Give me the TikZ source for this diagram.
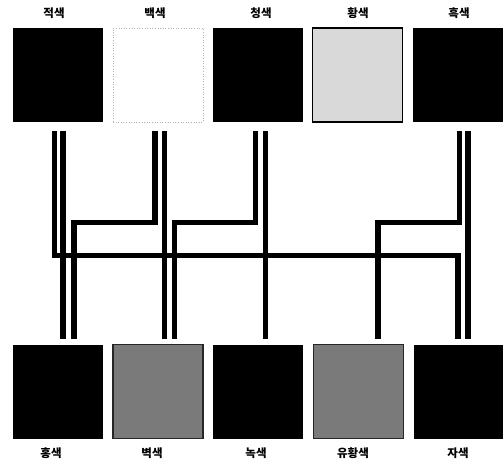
\documentclass[tikz,border=0pt]{standalone}
\usepackage{fontspec}
\newfontfamily\kr{Noto Sans CJK KR}
\begin{document}
\begin{tikzpicture}[x=1pt,y=-1pt]
\tikzset{
  sq/.style={minimum width=90pt,minimum height=94pt,inner sep=0pt,outer sep=0pt},
  blk/.style={sq,fill=black},
  lbl/.style={font=\kr\bfseries\fontsize{11.5}{13}\selectfont,inner sep=0pt},
  wire/.style={line width=5.5pt,line join=miter,line cap=butt}
}
\useasboundingbox (0,0) rectangle (503,464);
% top squares
\node[blk] (t1) at (58,75) {};
\node[sq,draw=gray!60,dotted,line width=0.6pt] (t2) at (158,75) {};
\node[blk] (t3) at (258,75) {};
\node[sq,fill=black!15,draw=black,line width=1.5pt] (t4) at (357.5,75) {};
\node[blk] (t5) at (458,75) {};
% bottom squares
\node[blk] (b1) at (58,391.5) {};
\node[sq,fill=black!52,draw=black!85,line width=1.2pt] (b2) at (158,391.5) {};
\node[blk] (b3) at (258,391.5) {};
\node[sq,fill=black!52,draw=black!85,line width=1.2pt] (b4) at (358.5,391.5) {};
\node[blk] (b5) at (458.5,391.5) {};
% labels
\node[lbl] (lt1) at (54,13) {적색};
\node[lbl] (lt2) at (155,13) {백색};
\node[lbl] (lt3) at (261,13) {청색};
\node[lbl] (lt4) at (358,13) {황색};
\node[lbl] (lt5) at (459,13) {흑색};
\node[lbl] (lb1) at (51,453) {홍색};
\node[lbl] (lb2) at (152,453) {벽색};
\node[lbl] (lb3) at (256,453) {녹색};
\node[lbl] (lb4) at (353,453) {유황색};
\node[lbl] (lb5) at (458,453) {자색};
% wire end points
\coordinate (a0) at (54.5,131);  \coordinate (a1) at (458,339);
\coordinate (c0) at (63,131);    \coordinate (c1) at (63,339);
\coordinate (d0) at (155,131);   \coordinate (d1) at (74,339);
\coordinate (e0) at (164.5,131); \coordinate (e1) at (164.5,339);
\coordinate (f0) at (255.5,131); \coordinate (f1) at (174.5,339);
\coordinate (g0) at (265.5,131); \coordinate (g1) at (265.5,339);
\coordinate (h0) at (459.5,131); \coordinate (h1) at (378,339);
\coordinate (k0) at (468,131);   \coordinate (k1) at (468,339);
% wires
\draw[wire] (a0) |- (255.5,255.5) -| (a1);
\draw[wire] (c0) -- (c1);
\draw[wire] (d0) |- (74,222.5) -- (d1);
\draw[wire] (e0) -- (e1);
\draw[wire] (f0) |- (174.5,222.5) -- (f1);
\draw[wire] (g0) -- (g1);
\draw[wire] (h0) |- (378,222.5) -- (h1);
\draw[wire] (k0) -- (k1);
\end{tikzpicture}
\end{document}
